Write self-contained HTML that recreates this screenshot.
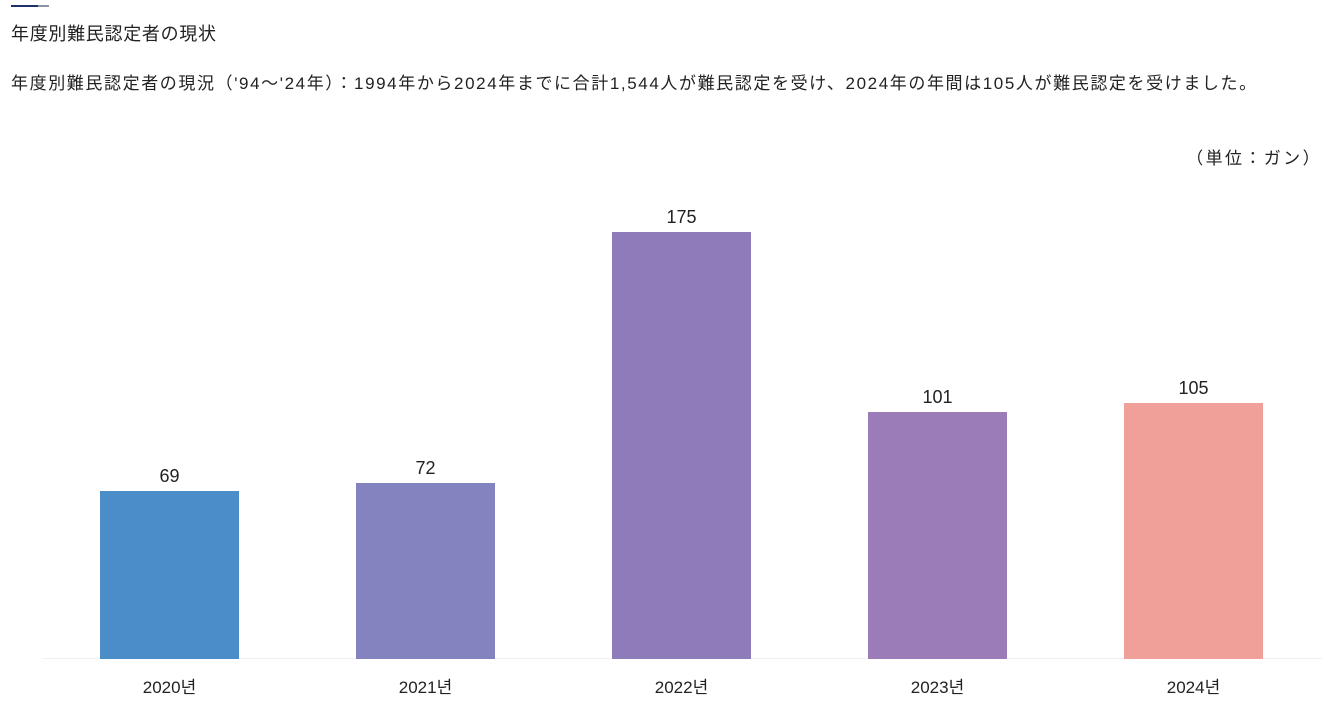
<!DOCTYPE html>
<html><head><meta charset="utf-8"><style>
body{margin:0;width:1336px;height:705px;background:#fff;position:relative;overflow:hidden;font-family:"Liberation Sans","Noto Sans CJK JP",sans-serif;color:#222}
.t{position:absolute;white-space:nowrap}
.bar{position:absolute;bottom:46px;width:139px}
.v{position:absolute;font-size:18px;text-align:center;width:139px}
.x{position:absolute;top:673px;font-size:17px;text-align:center;width:139px;font-family:"Liberation Sans","Noto Sans CJK KR",sans-serif}
</style></head><body>
<div style="position:absolute;left:11px;top:5px;width:27px;height:2px;background:#1f2f6e"></div>
<div style="position:absolute;left:38px;top:5px;width:11px;height:2px;background:#8a93a6"></div>
<div class="t" style="left:11px;top:20px;font-size:18px;letter-spacing:0.7px">年度別難民認定者の現状</div>
<div class="t" style="left:11px;top:69px;font-size:17px;letter-spacing:1.6px">年度別難民認定者の現況（'94～'24年）：1994年から2024年までに合計1,544人が難民認定を受け、2024年の年間は105人が難民認定を受けました。</div>
<div class="t" style="right:14px;top:144px;font-size:17px;letter-spacing:2.4px">（単位：ガン）</div>
<div style="position:absolute;left:42px;top:658px;width:1280px;height:1px;background:#f0f0f0"></div>
<div class="bar" style="left:100px;top:491px;background:#4b8dc8"></div>
<div class="bar" style="left:356px;top:483px;background:#8383bf"></div>
<div class="bar" style="left:612px;top:232px;background:#8e7bb9"></div>
<div class="bar" style="left:868px;top:412px;background:#9c7cb8"></div>
<div class="bar" style="left:1124px;top:403px;background:#f09f99"></div>
<div class="v" style="left:100px;top:466px">69</div>
<div class="v" style="left:356px;top:458px">72</div>
<div class="v" style="left:612px;top:207px">175</div>
<div class="v" style="left:868px;top:387px">101</div>
<div class="v" style="left:1124px;top:378px">105</div>
<div class="x" style="left:100px">2020년</div>
<div class="x" style="left:356px">2021년</div>
<div class="x" style="left:612px">2022년</div>
<div class="x" style="left:868px">2023년</div>
<div class="x" style="left:1124px">2024년</div>
</body></html>
